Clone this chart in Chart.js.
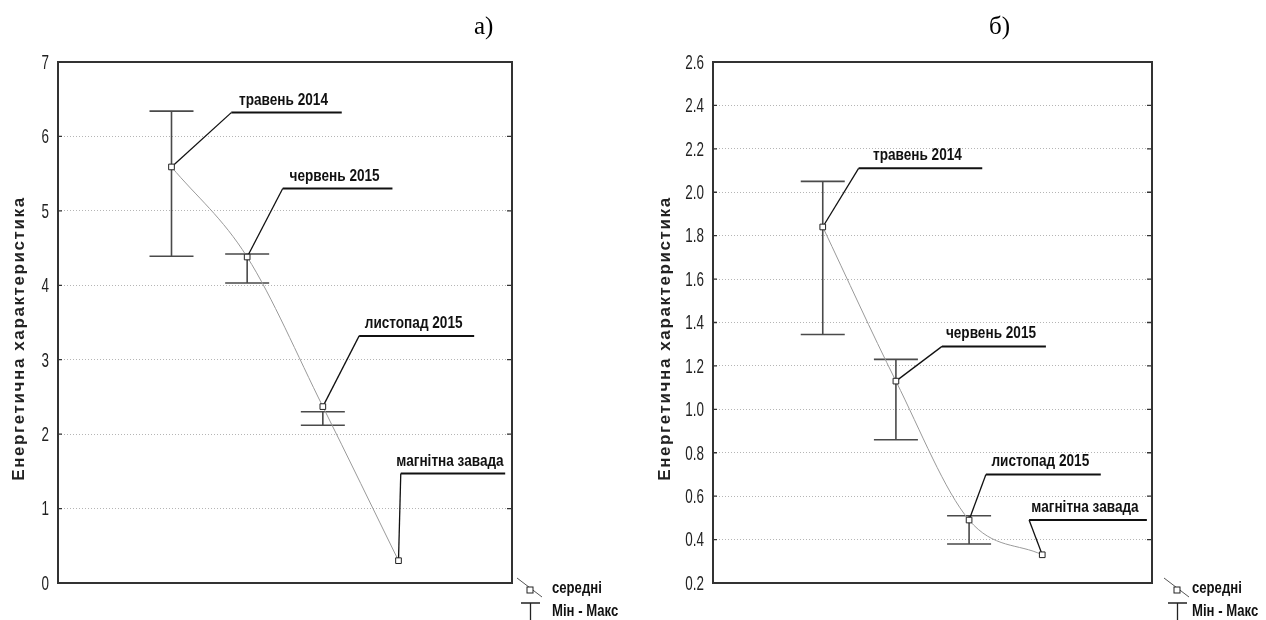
<!DOCTYPE html>
<html>
<head>
<meta charset="utf-8">
<script src="https://cdn.jsdelivr.net/npm/chart.js@4.4.0/dist/chart.umd.min.js"></script>
<style>
  body { margin: 0; background: #fff; width: 1266px; height: 620px; position: relative; overflow: hidden; }
  .box { position: absolute; top: 0; width: 633px; height: 620px; }
  .tag { position: absolute; top: 12px; font: 25px "Liberation Serif", "Times New Roman", serif; color: #000; }
</style>
</head>
<body>
<div class="box" style="left:0"><canvas id="chartA"></canvas></div>
<div class="box" style="left:633px"><canvas id="chartB"></canvas></div>
<div class="tag" style="left:474px">а)</div>
<div class="tag" style="left:989px">б)</div>
<script>
// --- data ---
const xValues = [1, 2, 3, 4];
const pointLabels = ['травень 2014', 'червень 2015', 'листопад 2015', 'магнітна завада'];

// chart а)
const meanA = [5.59, 4.38, 2.37, 0.30];
const minA  = [4.39, 4.03, 2.12, null];
const maxA  = [6.34, 4.42, 2.30, null];

// chart б)
const meanB = [1.84, 1.13, 0.49, 0.33];
const minB  = [1.345, 0.86, 0.38, null];
const maxB  = [2.05, 1.23, 0.51, null];

const yTitle = 'Енергетична характеристика';
const legendMean = 'середні';
const legendRange = 'Мін - Макс';

// callout placement, in data units (elbow of the leader, end of underline)
const calloutA = { elbowX: [1.79, 2.47, 3.48, 4.03], elbowY: [6.32, 5.30, 3.32, 1.47], endX: [3.25, 3.92, 5.0, 5.41] };
const calloutB = { elbowX: [1.49, 2.63, 3.23, 3.82], elbowY: [2.11, 1.29, 0.70, 0.49], endX: [3.18, 4.05, 4.8, 5.43] };

const SANS = '"Liberation Sans", Arial, sans-serif';

// draws text squeezed horizontally, to mimic the narrow font of the original
function narrowText(ctx, txt, x, y, sx, align) {
  ctx.save();
  ctx.translate(x, y);
  ctx.scale(sx, 1);
  ctx.textAlign = align;
  ctx.fillText(txt, 0, 0);
  ctx.restore();
}

const decor = {
  id: 'decor',
  beforeDatasetsDraw(chart, args, opts) {
    const { ctx, scales: { x, y } } = chart;
    ctx.save();
    // min-max bars
    ctx.strokeStyle = '#4a4a4a';
    ctx.lineWidth = 1.6;
    xValues.forEach((xv, i) => {
      if (opts.mins[i] == null) return;
      const px = x.getPixelForValue(xv);
      const y1 = y.getPixelForValue(opts.mins[i]);
      const y2 = y.getPixelForValue(opts.maxs[i]);
      ctx.beginPath();
      ctx.moveTo(px, y1); ctx.lineTo(px, y2);
      ctx.moveTo(px - 22, y1); ctx.lineTo(px + 22, y1);
      ctx.moveTo(px - 22, y2); ctx.lineTo(px + 22, y2);
      ctx.stroke();
    });
    // callouts
    const c = opts.callout;
    ctx.strokeStyle = '#111';
    ctx.fillStyle = '#111';
    ctx.font = 'bold 17px ' + SANS;
    ctx.textBaseline = 'alphabetic';
    pointLabels.forEach((txt, i) => {
      const px = x.getPixelForValue(xValues[i]);
      const py = y.getPixelForValue(opts.means[i]);
      const ex = x.getPixelForValue(c.elbowX[i]);
      const ey = y.getPixelForValue(c.elbowY[i]);
      const rx = x.getPixelForValue(c.endX[i]);
      ctx.lineWidth = 1.3;
      ctx.beginPath(); ctx.moveTo(px, py); ctx.lineTo(ex, ey); ctx.stroke();
      ctx.lineWidth = 2;
      ctx.beginPath(); ctx.moveTo(ex, ey); ctx.lineTo(rx, ey); ctx.stroke();
      narrowText(ctx, txt, (ex + rx) / 2 - 3, ey - 8, 0.8, 'center');
    });
    ctx.restore();
  },
  afterDraw(chart, args, opts) {
    const { ctx, chartArea: a, scales: { x, y } } = chart;
    ctx.save();
    // frame
    ctx.strokeStyle = '#333';
    ctx.lineWidth = 2;
    ctx.strokeRect(a.left, a.top, a.right - a.left, a.bottom - a.top);
    // inward ticks
    ctx.lineWidth = 1.3;
    ctx.beginPath();
    x.ticks.forEach(t => {
      if (!Number.isInteger(t.value)) return;
      const px = x.getPixelForValue(t.value);
      ctx.moveTo(px, a.bottom); ctx.lineTo(px, a.bottom - 5);
      ctx.moveTo(px, a.top); ctx.lineTo(px, a.top + 5);
    });
    y.ticks.forEach(t => {
      const py = y.getPixelForValue(t.value);
      ctx.moveTo(a.left, py); ctx.lineTo(a.left + 4, py);
      ctx.moveTo(a.right, py); ctx.lineTo(a.right - 5, py);
    });
    ctx.stroke();

    // tick labels (narrow)
    ctx.fillStyle = '#222';
    ctx.font = '21px ' + SANS;
    ctx.textBaseline = 'middle';
    y.ticks.forEach(t => {
      narrowText(ctx, t.value.toFixed(opts.decimals), a.left - 9, y.getPixelForValue(t.value) + 1, 0.64, 'right');
    });
    x.ticks.forEach(t => {
      if (t.value >= 1 && t.value <= 4 && Number.isInteger(t.value)) {
        narrowText(ctx, String(t.value), x.getPixelForValue(t.value), a.bottom + 25, 0.64, 'center');
      }
    });

    // axis title
    ctx.save();
    ctx.translate(opts.titleX, (a.top + a.bottom) / 2 + 16);
    ctx.rotate(-Math.PI / 2);
    ctx.font = 'bold 17px ' + SANS;
    ctx.letterSpacing = '1.6px';
    ctx.textAlign = 'center';
    ctx.textBaseline = 'middle';
    ctx.fillStyle = '#222';
    ctx.fillText(yTitle, 0, 0);
    ctx.restore();

    // legend
    const lx = a.right + opts.legendDx;
    ctx.strokeStyle = '#555';
    ctx.lineWidth = 1;
    ctx.beginPath(); ctx.moveTo(lx, a.bottom - 5); ctx.lineTo(lx + 25, a.bottom + 14); ctx.stroke();
    ctx.fillStyle = '#fff';
    ctx.fillRect(lx + 10, a.bottom + 4, 6, 6);
    ctx.strokeStyle = '#222';
    ctx.strokeRect(lx + 10, a.bottom + 4, 6, 6);
    ctx.lineWidth = 1.3;
    ctx.beginPath();
    ctx.moveTo(lx + 4, a.bottom + 20); ctx.lineTo(lx + 23, a.bottom + 20);
    ctx.moveTo(lx + 13.5, a.bottom + 20); ctx.lineTo(lx + 13.5, a.bottom + 40);
    ctx.stroke();
    ctx.fillStyle = '#111';
    ctx.font = 'bold 16px ' + SANS;
    ctx.textBaseline = 'middle';
    narrowText(ctx, legendMean, a.right + 40, a.bottom + 6, 0.82, 'left');
    narrowText(ctx, legendRange, a.right + 40, a.bottom + 29, 0.82, 'left');
    ctx.restore();
  }
};

function makeChart(id, means, mins, maxs, yMin, yMax, yStep, decimals, axisWidth, padRight, titleX, callout, legendDx) {
  return new Chart(document.getElementById(id), {
    type: 'line',
    data: {
      datasets: [{
        data: xValues.map((xv, i) => ({ x: xv, y: means[i] })),
        borderColor: '#9a9a9a',
        borderWidth: 1,
        cubicInterpolationMode: 'monotone',
        pointStyle: 'rect',
        pointRadius: 4,
        pointBackgroundColor: '#fff',
        pointBorderColor: '#222',
        pointBorderWidth: 1
      }]
    },
    options: {
      responsive: true,
      maintainAspectRatio: false,
      animation: false,
      events: [],
      layout: { padding: { top: 62, right: padRight, bottom: 0, left: 0 } },
      plugins: {
        legend: { display: false },
        tooltip: { enabled: false },
        decor: { means, mins, maxs, callout, legendDx, decimals, titleX }
      },
      scales: {
        x: {
          type: 'linear',
          min: -0.5,
          max: 5.5,
          grid: { display: false, drawTicks: false },
          border: { display: false },
          ticks: { stepSize: 1, display: false },
          afterFit: s => { s.height = 37; }
        },
        y: {
          min: yMin,
          max: yMax,
          grid: { color: '#b5b5b5', lineWidth: 1, drawTicks: false },
          border: { display: false, dash: [1, 2] },
          ticks: { stepSize: yStep, display: false },
          afterFit: s => { s.width = axisWidth; }
        }
      }
    },
    plugins: [decor]
  });
}

makeChart('chartA', meanA, minA, maxA, 0, 7, 1, 0, 58, 121, 19, calloutA, 5);
makeChart('chartB', meanB, minB, maxB, 0.2, 2.6, 0.2, 1, 80, 114, 32, calloutB, 12);
</script>
</body>
</html>
